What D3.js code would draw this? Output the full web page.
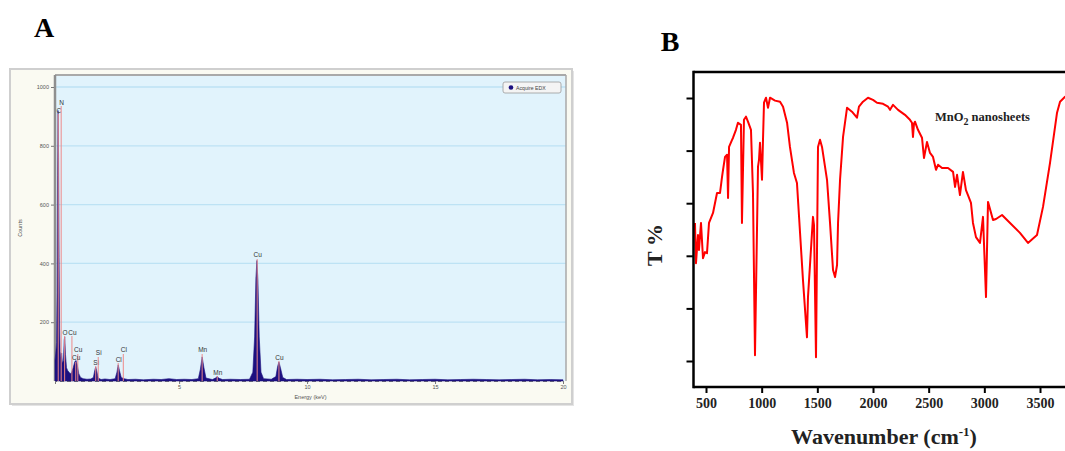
<!DOCTYPE html>
<html><head><meta charset="utf-8">
<script src="https://cdn.jsdelivr.net/npm/d3@7"></script>
<style>body{margin:0;background:#fff} svg{display:block}</style>
</head><body><svg id="c" width="1065" height="451"></svg>
<script>
// ---------- Panel A : EDX spectrum ----------
const edxEnergy = [0.15,0.18,0.21,0.23,0.25,0.27,0.29,0.31,0.33,0.35,0.38,0.41,0.44,0.48,0.51,0.53,0.56,0.60,0.65,0.70,0.75,0.80,0.86,0.92,0.97,1.02,1.08,1.15,1.25,1.40,1.55,1.65,1.70,1.74,1.78,1.84,1.95,2.10,2.30,2.50,2.57,2.62,2.67,2.74,2.85,3.00,3.30,3.60,4.00,4.30,4.60,4.90,5.20,5.50,5.75,5.83,5.90,5.97,6.05,6.30,6.42,6.49,6.56,6.70,7.00,7.40,7.75,7.88,7.95,8.00,8.04,8.08,8.13,8.20,8.30,8.60,8.78,8.85,8.90,8.96,9.05,9.20,9.60,10.0,10.5,11.0,11.5,12.0,12.5,13.0,13.5,14.0,14.5,15.0,15.5,16.0,16.5,17.0,17.5,18.0,18.5,19.0,19.5,20.0];
const edxCounts = [70,95,130,300,700,920,760,420,180,100,80,95,60,70,140,150,90,45,35,30,25,30,45,65,70,55,25,12,8,6,7,12,35,48,35,10,5,7,5,8,30,55,35,12,8,5,6,4,6,5,8,5,6,5,8,40,82,45,10,5,10,15,9,5,6,5,6,30,150,350,410,340,150,30,8,6,15,50,65,45,12,5,6,5,6,4,5,6,4,5,6,4,5,6,4,5,6,5,4,5,6,4,5,4];
const edxTicksY = [200,400,600,800,1000];
const edxTicksX = [5,10,15,20];
const markerNames  = ["C","N","O","Cu","Cu","Cu","Si","Si","Cl","Cl","Mn","Mn","Cu","Cu"];
const markerEnergy = [0.277,0.392,0.525,0.811,1.04,0.96,1.74,1.84,2.62,2.82,5.90,6.49,8.05,8.90];
const markerTop    = [908,935,153,153,92,65,51,82,61,92,92,17,415,68];

// ---------- Panel B : FTIR spectrum ----------
const ftirWavenumber = [401,410,428,437,455,473,491,509,527,563,599,626,644,653,671,689,698,707,734,743,769,787,814,823,841,859,877,904,922,940,967,976,985,1003,1012,1021,1039,1057,1075,1120,1165,1192,1228,1254,1290,1317,1371,1407,1416,1461,1470,1488,1506,1524,1542,1587,1614,1641,1659,1677,1686,1704,1731,1767,1811,1856,1874,1910,1955,2000,2036,2090,2135,2153,2180,2225,2287,2332,2350,2359,2368,2377,2404,2440,2458,2485,2512,2539,2566,2584,2620,2674,2719,2737,2755,2781,2808,2835,2853,2880,2898,2925,2961,2988,3015,3033,3078,3105,3159,3231,3320,3392,3473,3527,3590,3653,3680,3725,3800,3900];
const ftirTransmittance = [52.5,37.2,47.9,42.2,52.5,39.1,41.4,41.0,52.5,56.3,63.9,63.9,70.0,72.7,77.6,78.4,62.0,81.4,84.1,84.9,87.9,90.6,89.8,52.5,91.7,92.9,91.0,87.9,63.9,2.2,73.8,76.5,83.0,68.9,84.1,98.2,100.1,96.3,100.1,99.0,98.6,96.7,90.6,81.4,71.5,67.7,30.8,9.0,24.3,54.8,51.7,1.4,81.4,84.1,81.4,68.9,52.5,34.6,31.9,36.5,52.5,68.9,85.2,96.3,94.8,92.5,96.7,98.6,100.1,99.3,98.2,97.8,96.7,95.5,97.4,95.5,93.6,91.7,90.6,85.2,90.2,91.0,87.9,84.9,77.2,83.3,79.1,77.6,72.7,74.6,73.4,73.4,71.9,66.2,70.8,63.1,71.9,65.0,63.1,60.1,52.5,47.1,44.9,54.8,24.3,60.5,53.6,54.0,55.5,52.5,48.7,44.9,47.9,58.6,75.3,94.4,98.6,100.5,100.5,100.5];
const ftirTicksX = [500,1000,1500,2000,2500,3000,3500];
const ftirTicksY = [0,20,40,60,80,100];

const svg = d3.select("#c");
svg.append("rect").attr("width",1065).attr("height",451).attr("fill","#fff");

// ================= Panel A =================
const A = svg.append("g");
A.append("text").attr("x",44).attr("y",37).attr("text-anchor","middle")
  .attr("font-family","Liberation Serif").attr("font-weight","bold").attr("font-size",28).text("A");
A.append("rect").attr("x",12).attr("y",71).attr("width",562).attr("height",335).attr("fill","#e4e4e4");
A.append("rect").attr("x",10).attr("y",69).attr("width",562).attr("height",335)
  .attr("fill","#fafaf2").attr("stroke","#cfcfcf").attr("stroke-width",2);

const xA = d3.scaleLinear().domain([0.15,20]).range([55,563]);
const yA = d3.scaleLinear().domain([0,1000]).range([381,87]);
const pL=55, pR=566, pT=75, pB=381;
A.append("rect").attr("x",pL).attr("y",pT).attr("width",pR-pL).attr("height",pB-pT).attr("fill","#e1f3fc");
A.append("g").selectAll("line").data(edxTicksY).join("line")
  .attr("x1",pL).attr("x2",pR).attr("y1",d=>yA(d)).attr("y2",d=>yA(d))
  .attr("stroke","#bde2f4").attr("stroke-width",1.3);
A.append("line").attr("x1",pL).attr("x2",pR).attr("y1",pT).attr("y2",pT).attr("stroke","#a9a9a9").attr("stroke-width",2);
A.append("line").attr("x1",pL).attr("x2",pL).attr("y1",pT).attr("y2",pB).attr("stroke","#8f8f8f").attr("stroke-width",2.5);
A.append("line").attr("x1",pR).attr("x2",pR).attr("y1",pT).attr("y2",pB).attr("stroke","#a9a9a9").attr("stroke-width",1.5);

const yAxisA = d3.axisLeft(yA).tickValues(edxTicksY).tickSize(3).tickPadding(2).tickFormat(d3.format("d"));
const gyA = A.append("g").attr("transform",`translate(${pL-1},0)`).call(yAxisA);
gyA.select(".domain").remove();
gyA.selectAll("line").attr("stroke","#777");
gyA.selectAll("text").attr("font-family","Liberation Sans").attr("font-size",5.5).attr("fill","#555");
const xAxisA = d3.axisBottom(xA).tickValues(edxTicksX).tickSize(3).tickPadding(1).tickFormat(d3.format("d"));
const gxA = A.append("g").attr("transform",`translate(0,${pB})`).call(xAxisA);
gxA.select(".domain").attr("stroke","#555").attr("stroke-dasharray","4,3").attr("stroke-width",0.8);
gxA.selectAll("line").attr("stroke","#777");
gxA.selectAll("text").attr("font-family","Liberation Sans").attr("font-size",5.5).attr("fill","#555");

A.append("text").attr("x",(pL+pR)/2).attr("y",399).attr("text-anchor","middle")
  .attr("font-family","Liberation Sans").attr("font-size",5.5).attr("fill","#555").text("Energy (keV)");
A.append("text").attr("transform",`translate(22,${(pT+pB)/2}) rotate(-90)`).attr("text-anchor","middle")
  .attr("font-family","Liberation Sans").attr("font-size",5.5).attr("fill","#555").text("Counts");

const edxData = edxEnergy.map((e,i)=>[e,edxCounts[i]]);
const area = d3.area().x(d=>xA(d[0])).y0(pB).y1(d=>yA(d[1]));
A.append("path").datum(edxData).attr("d",area).attr("fill","#1c1080").attr("stroke","#1c1080").attr("stroke-width",0.6);

const mk = A.append("g");
markerNames.forEach((n,i)=>{
  const x = xA(markerEnergy[i]);
  mk.append("line").attr("x1",x).attr("x2",x).attr("y1",pB).attr("y2",yA(markerTop[i]))
    .attr("stroke","#f08a8a").attr("stroke-width",1.1).attr("opacity",0.9);
  mk.append("text").attr("x",x+0.5).attr("y",yA(markerTop[i])-1.5).attr("text-anchor","middle")
    .attr("font-family","Liberation Sans").attr("font-size",6.5).attr("fill","#333").text(n);
});

A.append("rect").attr("x",503).attr("y",82).attr("width",58).attr("height",11).attr("rx",2)
  .attr("fill","#f4f4f4").attr("stroke","#9a9a9a").attr("stroke-width",0.8);
A.append("circle").attr("cx",511).attr("cy",87.5).attr("r",2.3).attr("fill","#1c1080");
A.append("text").attr("x",516).attr("y",89.5).attr("font-family","Liberation Sans").attr("font-size",5.2)
  .attr("fill","#444").text("Acquire EDX");

// ================= Panel B =================
const B = svg.append("g");
B.append("text").attr("x",670).attr("y",51).attr("text-anchor","middle")
  .attr("font-family","Liberation Serif").attr("font-weight","bold").attr("font-size",28).text("B");

const xB = d3.scaleLinear().domain([500,3500]).range([706,1040]);
const yB = d3.scaleLinear().domain([0,100]).range([361,98]);
const bL=693.5, bT=72, bB=387;

svg.append("defs").append("clipPath").attr("id","clipB").append("rect")
  .attr("x",bL).attr("y",bT).attr("width",1065-bL).attr("height",bB-bT);

const ftirData = ftirWavenumber.map((w,i)=>[w,ftirTransmittance[i]]);
B.append("path").datum(ftirData).attr("clip-path","url(#clipB)")
  .attr("d",d3.line().x(d=>xB(d[0])).y(d=>yB(d[1])))
  .attr("fill","none").attr("stroke","#ff0000").attr("stroke-width",2).attr("stroke-linejoin","round");

B.append("line").attr("x1",bL).attr("x2",1065).attr("y1",bT).attr("y2",bT).attr("stroke","#000").attr("stroke-width",2.5);
B.append("line").attr("x1",bL).attr("x2",1065).attr("y1",bB).attr("y2",bB).attr("stroke","#000").attr("stroke-width",2.5);
B.append("line").attr("x1",bL).attr("x2",bL).attr("y1",bT-1.2).attr("y2",bB+1.2).attr("stroke","#000").attr("stroke-width",2.5);

const yAxisB = d3.axisLeft(yB).tickValues(ftirTicksY).tickSize(7).tickFormat("");
const gyB = B.append("g").attr("transform",`translate(${bL},0)`).call(yAxisB);
gyB.select(".domain").remove();
gyB.selectAll("line").attr("stroke","#000").attr("stroke-width",2);

const xAxisB = d3.axisBottom(xB).tickValues(ftirTicksX).tickSize(6).tickPadding(5).tickFormat(d3.format("d"));
const gxB = B.append("g").attr("transform",`translate(0,${bB})`).call(xAxisB);
gxB.select(".domain").remove();
gxB.selectAll("line").attr("stroke","#000").attr("stroke-width",2);
gxB.selectAll("text").attr("font-family","Liberation Serif").attr("font-weight","bold")
  .attr("font-size",14).attr("fill","#222");

const xt = B.append("text").attr("x",884).attr("y",444).attr("text-anchor","middle")
  .attr("font-family","Liberation Serif").attr("font-weight","bold").attr("font-size",22).attr("fill","#222");
xt.append("tspan").text("Wavenumber (cm");
xt.append("tspan").attr("dy",-8).attr("font-size",13).text("-1");
xt.append("tspan").attr("dy",8).text(")");

B.append("text").attr("transform","translate(662,245) rotate(-90)").attr("text-anchor","middle")
  .attr("font-family","Liberation Serif").attr("font-weight","bold").attr("font-size",22).attr("fill","#222").text("T %");

const lab = B.append("text").attr("x",935).attr("y",121)
  .attr("font-family","Liberation Serif").attr("font-weight","bold").attr("font-size",12.5).attr("fill","#222");
lab.append("tspan").text("MnO");
lab.append("tspan").attr("dy",3.5).attr("font-size",10).text("2");
lab.append("tspan").attr("dy",-3.5).text(" nanosheets");
</script></body></html>
